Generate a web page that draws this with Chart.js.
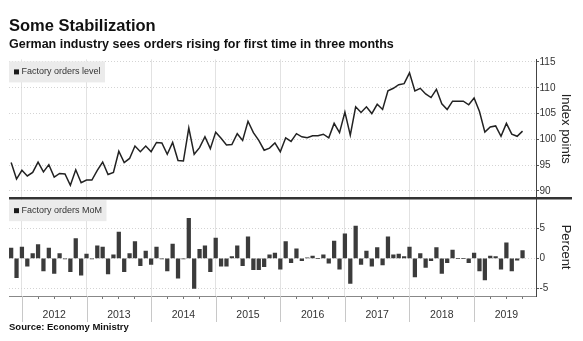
<!DOCTYPE html>
<html>
<head>
<meta charset="utf-8">
<script src="https://cdn.jsdelivr.net/npm/chart.js@4.4.0/dist/chart.umd.min.js"></script>
<style>
  html, body { margin: 0; padding: 0; background: #fff; }
  #wrap { position: relative; width: 583px; height: 341px; }
</style>
</head>
<body>
<div id="wrap"><canvas id="orders"></canvas></div>
<script>
// monthly series, index 0 = Oct 2011 ... index 95 = Sep 2019
const years = ["2012", "2013", "2014", "2015", "2016", "2017", "2018", "2019"];
const levelTicks = [90, 95, 100, 105, 110, 115];
const momTicks = [-5, 0, 5];

const level = [
  95.5, 92.3, 94.0, 92.9, 93.6, 95.6, 93.7, 95.1, 92.7, 93.4, 93.3, 91.1,
  94.1, 91.6, 92.1, 92.1, 94.0, 95.6, 93.2, 93.6, 97.7, 95.5, 96.3, 98.7,
  97.6, 98.7, 97.6, 99.4, 99.3, 97.1, 99.4, 95.9, 95.8, 102.2, 97.1, 98.4,
  100.5, 98.2, 101.4, 100.2, 98.9, 99.0, 101.1, 99.8, 103.5, 101.3, 99.8, 97.9,
  98.3, 99.3, 97.6, 100.3, 99.6, 101.1, 100.5, 100.3, 100.7, 100.7, 101.0, 100.3,
  103.1, 101.3, 105.3, 100.8, 106.3, 105.2, 106.3, 105.0, 106.8, 105.8, 109.4, 109.9,
  110.6, 110.8, 112.9, 109.4, 109.9, 108.8, 108.1, 109.7, 106.9, 105.8, 107.4, 107.4,
  107.4, 106.7, 108.0, 105.4, 101.4, 102.4, 102.6, 100.6, 103.1, 101.0, 100.6, 101.6
];

const mom = [
  1.7, -3.2, 1.9, -1.3, 0.8, 2.3, -2.1, 1.7, -2.5, 0.8, -0.1, -2.2,
  3.3, -2.8, 0.7, -0.1, 2.1, 1.9, -2.6, 0.6, 4.4, -2.2, 0.8, 2.8,
  -1.2, 1.2, -1.0, 1.9, -0.1, -2.1, 2.4, -3.3, -0.1, 6.7, -5.0, 1.5,
  2.1, -2.2, 3.4, -1.3, -1.3, 0.3, 2.1, -1.2, 3.6, -1.9, -1.9, -1.4,
  0.6, 0.9, -1.8, 2.8, -0.7, 1.6, -0.4, 0.1, 0.4, 0.0, 0.6, -0.8,
  2.9, -1.8, 4.1, -4.2, 5.4, -1.0, 1.2, -1.3, 1.8, -1.1, 3.6, 0.6,
  0.7, 0.3, 1.9, -3.1, 0.8, -1.5, -0.4, 1.8, -2.5, -0.7, 1.4, 0.0,
  0.0, -0.7, 0.9, -2.1, -3.6, 0.4, 0.3, -1.8, 2.6, -2.1, -0.3, 1.3
];

const FONT = '"Liberation Sans", Arial, sans-serif';
Chart.defaults.font.family = FONT;
Chart.defaults.color = "#333";

// index 2 (Dec 2011) sits on the 2012 boundary; quarter ends every 3 months
const isYearEdge = (v) => (v - 2) % 12 === 0;
const quarterTicks = [];
for (let v = 2; v <= 95; v += 3) quarterTicks.push({ value: v });

const panelDecor = {
  id: "panelDecor",
  beforeDatasetsDraw(chart) {
    const { ctx, chartArea, scales } = chart;
    const boxes = [
      { top: scales.y.top, text: "Factory orders level" },
      { top: scales.y2.top, text: "Factory orders MoM" },
    ];
    ctx.save();
    ctx.font = "9px " + FONT;
    ctx.textBaseline = "middle";
    boxes.forEach(({ top, text }) => {
      const x = chartArea.left;
      const y = top + 2;
      const w = ctx.measureText(text).width + 17;
      ctx.fillStyle = "#ebebeb";
      ctx.fillRect(x, y, w, 21);
      ctx.fillStyle = "#1a1a1a";
      ctx.fillRect(x + 5, y + 8, 5, 5);
      ctx.fillStyle = "#333";
      ctx.fillText(text, x + 12.5, y + 10.5);
    });
    ctx.restore();
  },
  afterDraw(chart) {
    const { ctx, chartArea, scales: { x, y2 } } = chart;
    ctx.save();
    // year separators running down through the label row
    ctx.strokeStyle = "#c8c8c8";
    ctx.lineWidth = 1;
    x.ticks.forEach((t) => {
      if (!isYearEdge(t.value)) return;
      const px = Math.round(x.getPixelForValue(t.value)) + 0.5;
      ctx.beginPath();
      ctx.moveTo(px, chartArea.bottom);
      ctx.lineTo(px, chartArea.bottom + 26);
      ctx.stroke();
    });
    // heavy rule between the two panels
    ctx.strokeStyle = "#333";
    ctx.lineWidth = 2.5;
    ctx.beginPath();
    ctx.moveTo(chartArea.left, y2.top);
    ctx.lineTo(chart.width - 11, y2.top);
    ctx.stroke();
    ctx.restore();
  },
};

const rightAxis = (ticks, min, max, weight, title) => ({
  type: "linear",
  position: "right",
  stack: "panels",
  stackWeight: weight,
  min,
  max,
  afterBuildTicks: (axis) => {
    axis.ticks = ticks.map((value) => ({ value }));
  },
  afterFit: (axis) => {
    axis.width = 47;
  },
  grid: {
    color: "#d4d4d4",
    tickLength: 3,
    tickColor: "#555",
    tickBorderDash: [],
  },
  border: { display: true, color: "#444", width: 1, dash: [1, 2] },
  ticks: { padding: 0.5, font: { size: 10 }, color: "#333" },
  title: {
    display: true,
    text: title,
    color: "#222",
    font: { size: 13 },
    padding: { top: 10, bottom: 0 },
  },
});

new Chart(document.getElementById("orders"), {
  type: "bar",
  data: {
    datasets: [
      {
        type: "line",
        label: "Factory orders level",
        data: level.map((y, i) => ({ x: i, y })),
        yAxisID: "y",
        borderColor: "#222",
        borderWidth: 1.5,
        pointRadius: 0,
        tension: 0,
      },
      {
        type: "bar",
        label: "Factory orders MoM",
        data: mom.map((y, i) => ({ x: i, y })),
        yAxisID: "y2",
        backgroundColor: "#3b3b3b",
        barThickness: 3.6,
      },
    ],
  },
  options: {
    responsive: true,
    maintainAspectRatio: false,
    animation: false,
    layout: { padding: { left: 9, right: 0, top: 0, bottom: 0 } },
    plugins: {
      legend: { display: false },
      tooltip: { enabled: false },
      title: {
        display: true,
        text: "Some Stabilization",
        align: "start",
        color: "#111",
        font: { size: 16.5, weight: "bold" },
        padding: { top: 17, bottom: 0 },
      },
      subtitle: {
        display: true,
        text: "German industry sees orders rising for first time in three months",
        align: "start",
        color: "#111",
        font: { size: 12.5, weight: "bold" },
        padding: { top: 0, bottom: 7.6 },
      },
    },
    scales: {
      x: {
        type: "linear",
        offset: false,
        min: -0.4,
        max: 97.5,
        afterBuildTicks: (axis) => {
          axis.ticks = quarterTicks.map((t) => ({ ...t }));
        },
        afterFit: (axis) => {
          axis.height = 45;
        },
        grid: {
          offset: false,
          color: (c) => (c.tick && isYearEdge(c.tick.value) ? "#e2e2e2" : "rgba(0,0,0,0)"),
          tickColor: (c) => (c.tick && isYearEdge(c.tick.value) ? "rgba(0,0,0,0)" : "#777"),
          tickLength: 3,
        },
        border: { display: true, color: "#888", width: 1 },
        ticks: {
          autoSkip: false,
          maxRotation: 0,
          padding: 10,
          color: "#333",
          font: { size: 10.5 },
          callback: (v) => ((v - 8) % 12 === 0 ? years[(v - 8) / 12] : ""),
        },
        title: {
          display: true,
          text: "Source: Economy Ministry",
          align: "start",
          color: "#111",
          font: { size: 9.5, weight: "bold" },
          padding: { top: 0, bottom: 7.8 },
        },
      },
      y: rightAxis(levelTicks, 88.6, 115.5, 139, "Index points"),
      y2: rightAxis(momTicks, -6.28, 10.05, 98, "Percent"),
    },
  },
  plugins: [panelDecor],
});
</script>
</body>
</html>
